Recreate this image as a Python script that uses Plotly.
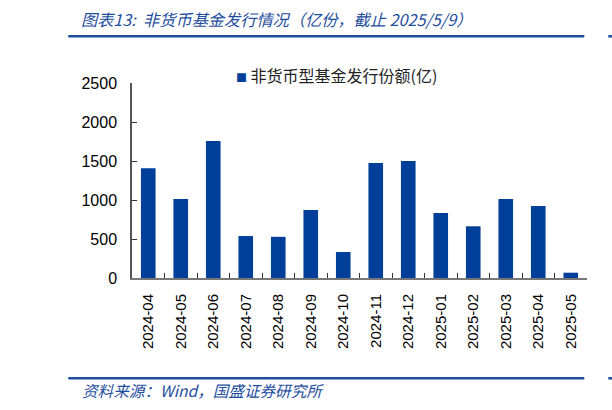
import plotly.graph_objects as go

# monthly issuance of non-money-market funds (100m units)
months = ["2024-04", "2024-05", "2024-06", "2024-07", "2024-08", "2024-09", "2024-10",
          "2024-11", "2024-12", "2025-01", "2025-02", "2025-03", "2025-04", "2025-05"]
issuance = [1408, 1013, 1756, 538, 528, 872, 333, 1474, 1500, 833, 663, 1013, 923, 68]

series_name = "非货币型基金发行份额(亿)"
title_text = "图表13:  非货币基金发行情况（亿份，截止 2025/5/9）"
source_text = "资料来源：Wind，国盛证券研究所"

bar_blue = "#003F99"
title_blue = "#1F4E9E"
cjk = "Noto Sans CJK SC"
latin = "Liberation Sans"

fig = go.Figure()
fig.add_trace(go.Bar(x=months, y=issuance, name=series_name,
                     marker=dict(color=bar_blue, line=dict(width=0)),
                     width=0.45, showlegend=False))

# plot area in pixels: x 131.7..586.7, y 82.7..277.7
def py(Y):
    return (277.7 - Y) / 195.0

def px(X):
    return (X - 131.7) / 455.0

fig.update_layout(
    width=612, height=410,
    margin=dict(l=131.7, r=25.3, t=82.7, b=132.3, autoexpand=False),
    paper_bgcolor="white", plot_bgcolor="white",
    font=dict(family=latin, size=15, color="black"),
)

fig.update_xaxes(
    type="category", tickangle=-90, tickson="boundaries",
    ticks="inside", ticklen=5, tickcolor="#333333",
    showline=True, linecolor="#777777", linewidth=2,
    showgrid=False, ticklabelstandoff=8,
    tickfont=dict(family=latin, size=15),
)
fig.update_yaxes(
    range=[0, 2500], dtick=500,
    ticks="inside", ticklen=5, tickcolor="#333333",
    showline=True, linecolor="#555555", linewidth=1.5,
    showgrid=False, zeroline=False, ticklabelstandoff=10,
    tickfont=dict(family=latin, size=16),
)

# legend drawn as text with a small coloured square
fig.add_annotation(
    x=px(234), y=py(75), xref="paper", yref="paper", xanchor="left", yanchor="middle",
    showarrow=False,
    text=f'<span style="color:{bar_blue};font-size:11px">■</span> {series_name}',
    font=dict(family=cjk, size=16, color="#222222"),
)

# header and footer
fig.add_annotation(
    x=px(79), y=py(19), xref="paper", yref="paper", xanchor="left", yanchor="middle",
    showarrow=False, text=f"<i>{title_text}</i>",
    font=dict(family=cjk, size=16.2, color=title_blue),
)
fig.add_annotation(
    x=px(80), y=py(390), xref="paper", yref="paper", xanchor="left", yanchor="middle",
    showarrow=False, text=f"<i>{source_text}</i>",
    font=dict(family=cjk, size=15.6, color=title_blue),
)
for yy in (36, 378):
    fig.add_shape(type="line", xref="paper", yref="paper",
                  x0=px(68), x1=px(584), y0=py(yy), y1=py(yy),
                  line=dict(color=title_blue, width=2.5))
    fig.add_shape(type="line", xref="paper", yref="paper",
                  x0=px(608), x1=px(612), y0=py(yy), y1=py(yy),
                  line=dict(color=title_blue, width=2.5))

# drop the default page margin so the figure sits at the window corner
fig.write_html("out.html", config={"displayModeBar": False},
               post_script="document.body.style.margin='0';")
